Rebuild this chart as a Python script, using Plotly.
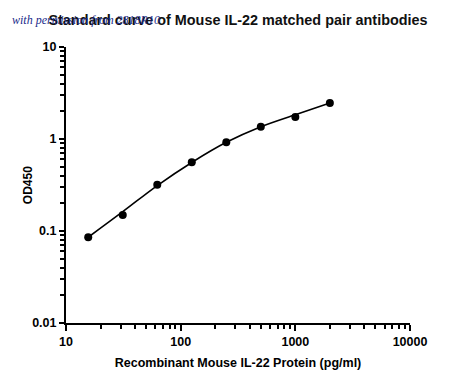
import plotly.graph_objects as go

conc = [15.625, 31.25, 62.5, 125, 250, 500, 1000, 2000]
od450 = [0.0855, 0.149, 0.318, 0.558, 0.92, 1.36, 1.73, 2.46]
# fitted standard curve at the same concentrations
curve_od = [0.0855, 0.162, 0.312, 0.556, 0.92, 1.36, 1.84, 2.46]

x_ticks = [10, 100, 1000, 10000]
x_labels = ["10", "100", "1000", "10000"]
y_ticks = [0.01, 0.1, 1, 10]
y_labels = ["0.01", "0.1", "1", "10"]

FONT = "Liberation Sans, Arial, sans-serif"

fig = go.Figure()
fig.add_trace(go.Scatter(
    x=conc, y=curve_od, mode="lines",
    line=dict(color="black", width=1.6, shape="spline", smoothing=1.0),
    showlegend=False, cliponaxis=False, hoverinfo="skip",
))
fig.add_trace(go.Scatter(
    x=conc, y=od450, mode="markers",
    marker=dict(color="black", size=8),
    showlegend=False, cliponaxis=False,
))

axis_font = dict(family=FONT, size=12.5, color="black")
fig.update_layout(
    width=450, height=381,
    margin=dict(l=66, r=40, t=47, b=58, autoexpand=False),
    paper_bgcolor="white", plot_bgcolor="white",
    title=dict(text="<b>Standard curve of Mouse IL-22 matched pair antibodies</b>",
               x=0.5, xref="paper", xanchor="center",
               y=1 - 20 / 381, yref="container", yanchor="middle",
               font=dict(family=FONT, size=14.4, color="#111")),
    xaxis=dict(type="log", range=[1, 4], showgrid=False, zeroline=False, automargin=False,
               showline=True, linecolor="black", linewidth=2,
               ticks="outside", ticklen=6, tickwidth=2, tickcolor="black",
               tickvals=x_ticks, ticktext=["<b>%s</b>" % t for t in x_labels],
               tickfont=axis_font,
               minor=dict(ticks="outside", ticklen=4, tickwidth=1.5, tickcolor="black",
                          tickvals=[m * 10 ** e for e in (1, 2, 3) for m in range(2, 10)], showgrid=False),
               title=dict(text="<b>Recombinant Mouse IL-22 Protein (pg/ml)</b>", standoff=10,
                          font=dict(family=FONT, size=12.5, color="black"))),
    yaxis=dict(type="log", range=[-2, 1], showgrid=False, zeroline=False, automargin=False,
               showline=True, linecolor="black", linewidth=2,
               ticks="outside", ticklen=5, tickwidth=2, tickcolor="black",
               tickvals=y_ticks, ticktext=["<b>%s</b>" % t for t in y_labels],
               tickfont=axis_font,
               minor=dict(ticks="outside", ticklen=4, tickwidth=1.5, tickcolor="black",
                          tickvals=[m * 10 ** e for e in (-2, -1, 0) for m in range(2, 10)], showgrid=False)),
)

fig.add_annotation(text="<b>OD450</b>", textangle=-90, xref="paper", yref="paper",
                   x=-0.110, y=0.5, xanchor="center", yanchor="middle", showarrow=False,
                   font=dict(family=FONT, size=12, color="black"))

fig.add_annotation(text="<i>with permission from 2818R10</i>", xref="paper", yref="paper",
                   x=-0.163, y=1.098, xanchor="left", yanchor="middle", showarrow=False,
                   font=dict(family="Liberation Serif, serif", size=12, color="#1a2a8a"))

fig.write_html("out.html", config={"displayModeBar": False},
               post_script="document.body.style.margin='0';document.body.style.overflow='hidden';")
